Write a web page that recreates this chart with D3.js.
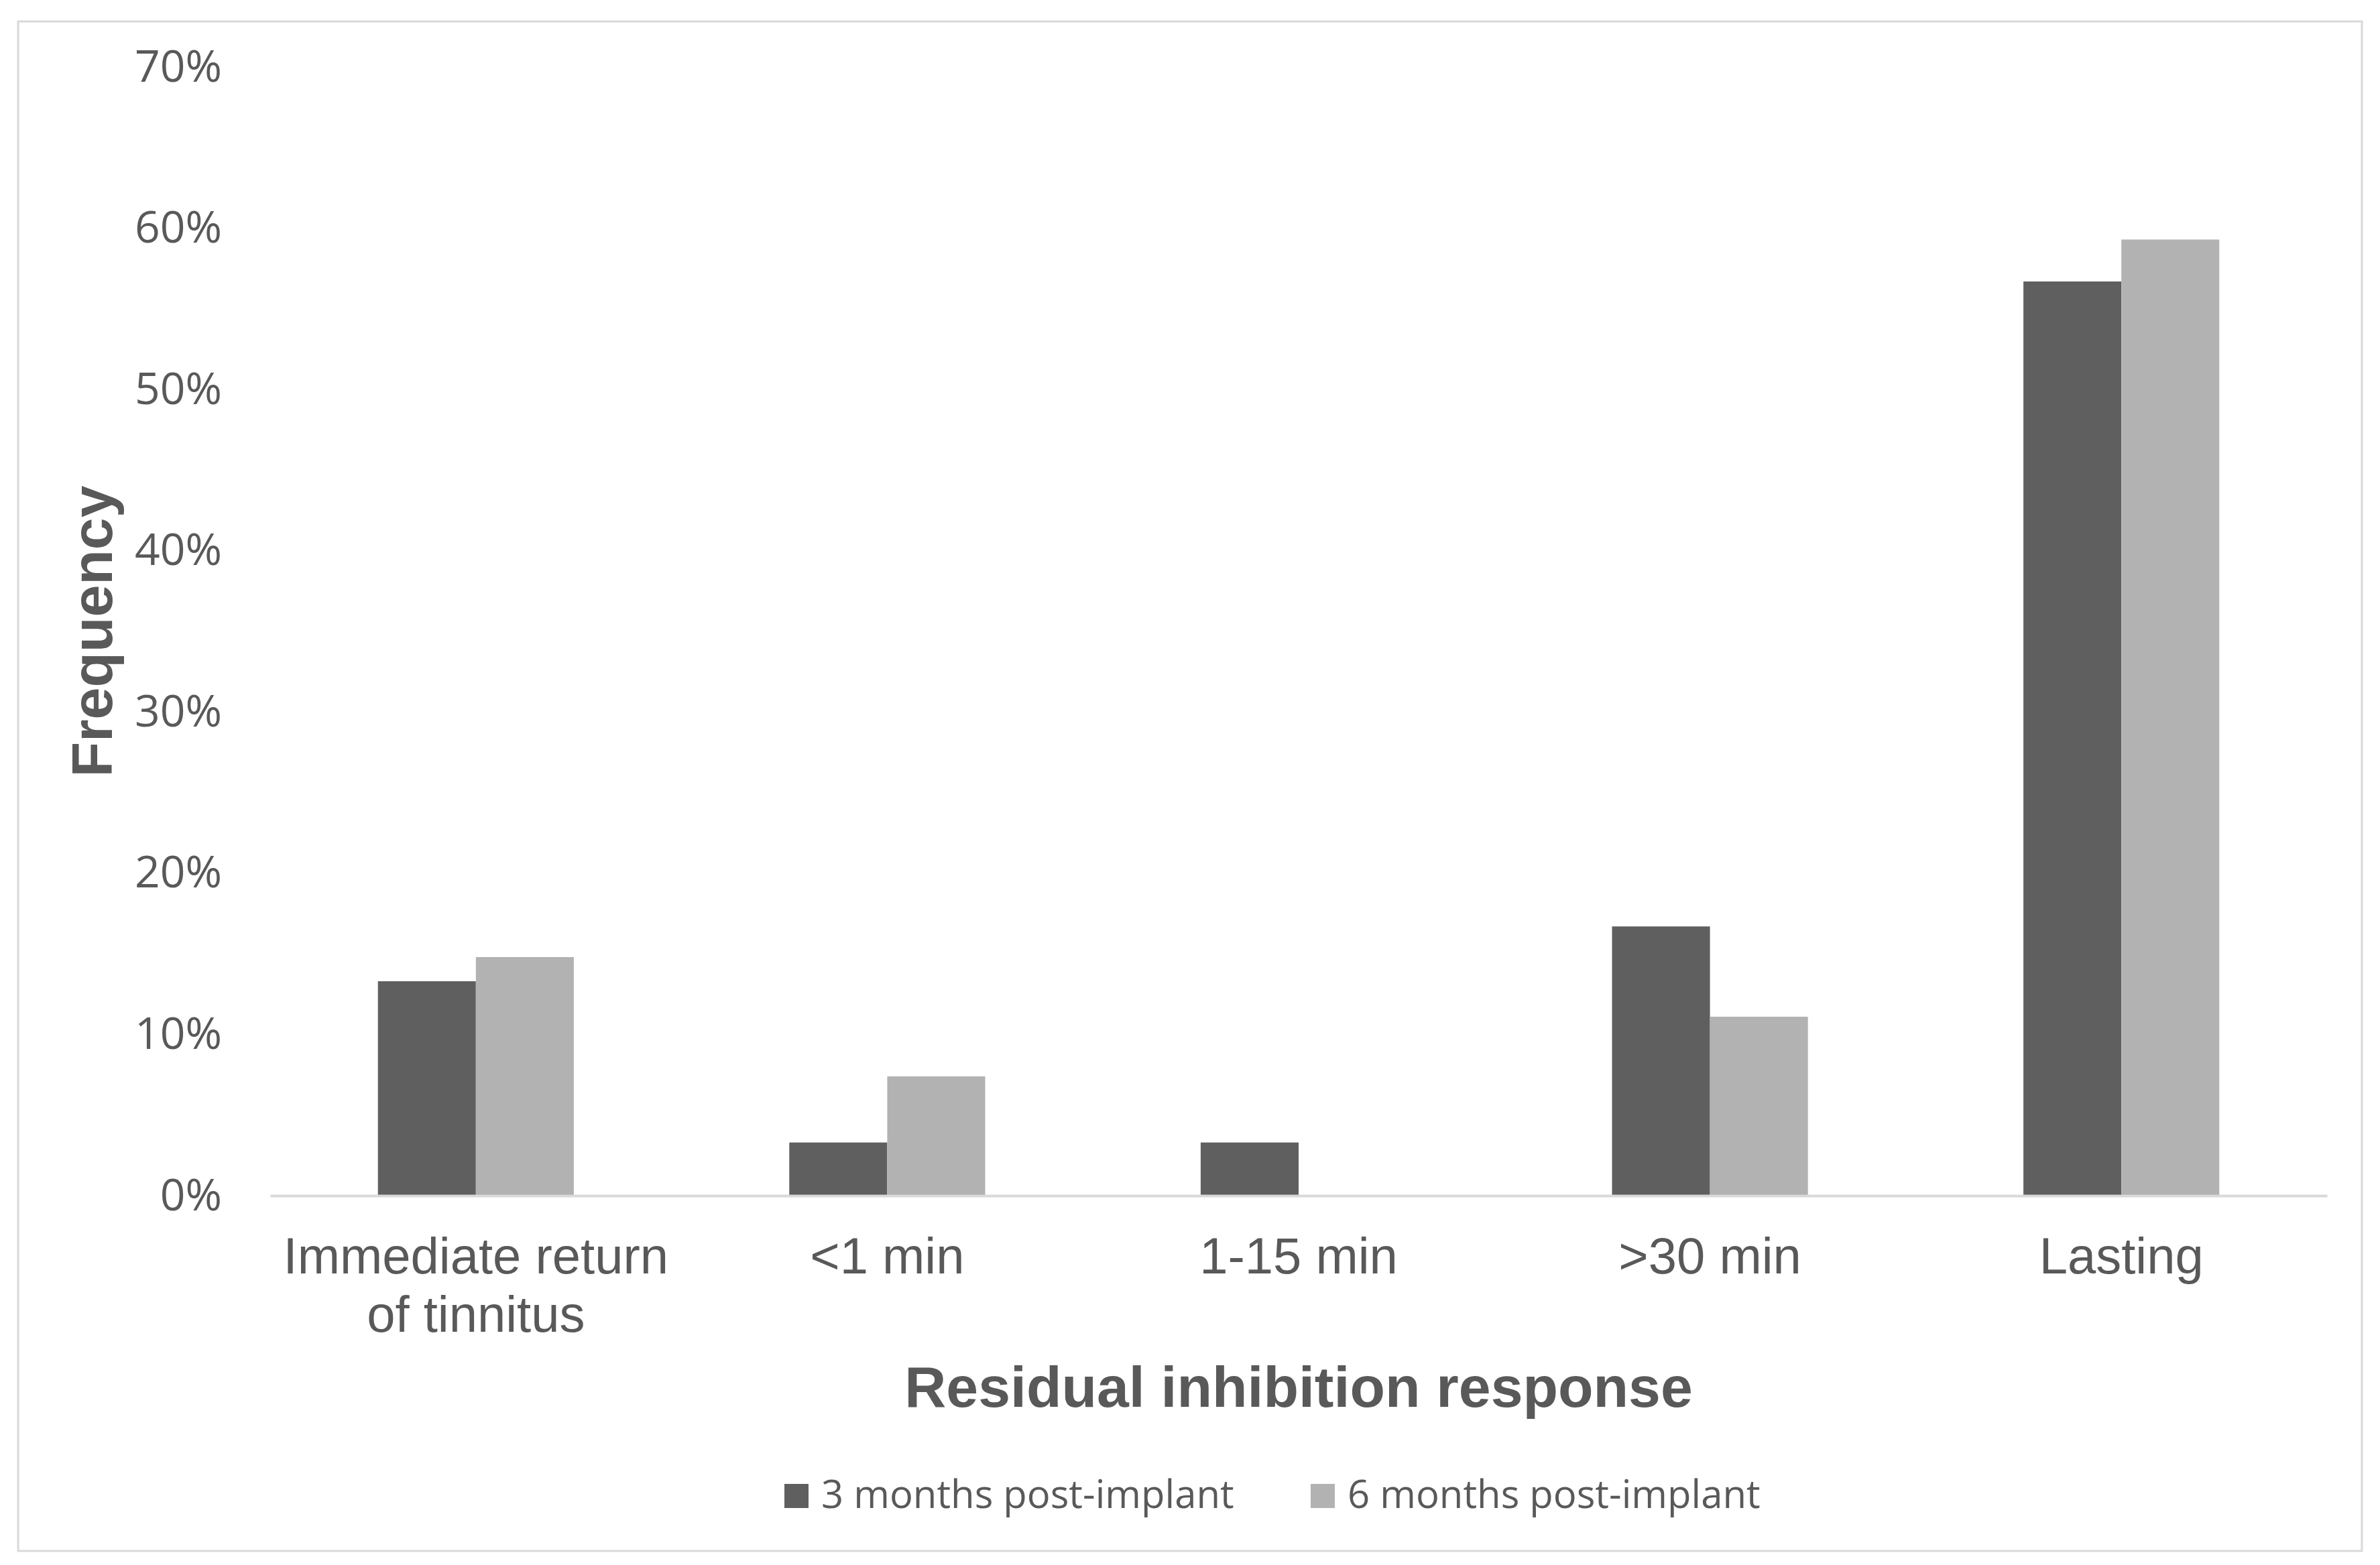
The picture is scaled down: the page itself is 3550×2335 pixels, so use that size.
<!DOCTYPE html>
<html>
<head>
<meta charset="utf-8">
<script src="https://cdn.jsdelivr.net/npm/d3@7"></script>
<style>
  body { margin: 0; background: #fff; }
</style>
</head>
<body>
<script>
// data
var categories = ["Immediate return of tinnitus", "<1 min", "1-15 min", ">30 min", "Lasting"];
var categoryLines = [["Immediate return", "of tinnitus"], ["<1 min"], ["1-15 min"], [">30 min"], ["Lasting"]];
var seriesNames = ["3 months post-implant", "6 months post-implant"];
var threeMonths = [0.133, 0.033, 0.033, 0.167, 0.567];
var sixMonths = [0.148, 0.074, 0, 0.111, 0.593];
var yTicks = [0, 0.1, 0.2, 0.3, 0.4, 0.5, 0.6, 0.7];
var colors = ["#5f5f5f", "#b2b2b2"];

var W = 3550, H = 2335;

var svg = d3.select("body")
  .append("svg")
  .attr("width", W)
  .attr("height", H);

// outer frame
svg.append("rect")
  .attr("x", 27).attr("y", 32)
  .attr("width", 3496).attr("height", 2282)
  .attr("fill", "#fff")
  .attr("stroke", "#d9d9d9")
  .attr("stroke-width", 3);

var x0 = d3.scaleBand()
  .domain(categories)
  .range([403, 3471])
  .padding(0);

var x1 = d3.scaleBand()
  .domain(seriesNames)
  .range([0, x0.bandwidth()])
  .paddingInner(0)
  .paddingOuter(1.1);

var y = d3.scaleLinear()
  .domain([0, 0.7])
  .range([1784, 100]);

var color = d3.scaleOrdinal().domain(seriesNames).range(colors);

// y axis (labels only)
var yAxis = svg.append("g")
  .attr("transform", "translate(403,0)")
  .call(d3.axisLeft(y).tickValues(yTicks).tickFormat(d3.format(".0%")).tickSize(0).tickPadding(72));
yAxis.select(".domain").remove();
yAxis.selectAll("text")
  .attr("font-family", "'Open Sans', sans-serif")
  .attr("font-size", "66px")
  .attr("fill", "#595959");

// bars
var rows = categories.map(function(c, i) {
  return {cat: c, values: [threeMonths[i], sixMonths[i]]};
});

var groups = svg.append("g").selectAll("g")
  .data(rows)
  .enter()
  .append("g")
  .attr("transform", function(d) { return "translate(" + x0(d.cat) + ",0)"; });

groups.selectAll("rect")
  .data(function(d) {
    return seriesNames.map(function(s, j) { return {name: s, value: d.values[j]}; });
  })
  .enter()
  .append("rect")
  .attr("x", function(d) { return x1(d.name); })
  .attr("width", x1.bandwidth())
  .attr("y", function(d) { return y(d.value); })
  .attr("height", function(d) { return y(0) - y(d.value); })
  .attr("fill", function(d) { return color(d.name); });

// x axis
var xAxis = svg.append("g")
  .attr("transform", "translate(0," + y(0) + ")")
  .call(d3.axisBottom(x0).tickSize(0));
xAxis.select(".domain")
  .attr("stroke", "#d9d9d9")
  .attr("stroke-width", 4);
xAxis.selectAll(".tick text")
  .attr("font-family", "'Liberation Sans', Arial, sans-serif")
  .attr("font-size", "76px")
  .attr("fill", "#595959")
  .attr("dy", null)
  .attr("y", null)
  .text(null)
  .each(function(d, i) {
    var t = d3.select(this);
    categoryLines[i].forEach(function(line, k) {
      t.append("tspan").attr("x", 0).attr("y", 116 + k * 87).text(line);
    });
  });

// axis titles
svg.append("text")
  .attr("transform", "translate(167," + ((y(0) + y(0.7)) / 2) + ") rotate(-90)")
  .attr("text-anchor", "middle")
  .attr("font-family", "'Liberation Sans', Arial, sans-serif")
  .attr("font-weight", "bold")
  .attr("font-size", "86px")
  .attr("fill", "#595959")
  .text("Frequency");

svg.append("text")
  .attr("x", (403 + 3471) / 2)
  .attr("y", 2099)
  .attr("text-anchor", "middle")
  .attr("font-family", "'Liberation Sans', Arial, sans-serif")
  .attr("font-weight", "bold")
  .attr("font-size", "86px")
  .attr("fill", "#595959")
  .text("Residual inhibition response");

// legend
var legendX = [1170, 1955];
var legend = svg.append("g").selectAll("g")
  .data(seriesNames)
  .enter()
  .append("g")
  .attr("transform", function(d, i) { return "translate(" + legendX[i] + ",2214)"; });

legend.append("rect")
  .attr("width", 36)
  .attr("height", 36)
  .attr("fill", function(d) { return color(d); });

legend.append("text")
  .attr("x", 55)
  .attr("y", 36)
  .attr("font-family", "'Open Sans', sans-serif")
  .attr("font-size", "58px")
  .attr("fill", "#595959")
  .text(function(d) { return d; });
</script>
</body>
</html>
